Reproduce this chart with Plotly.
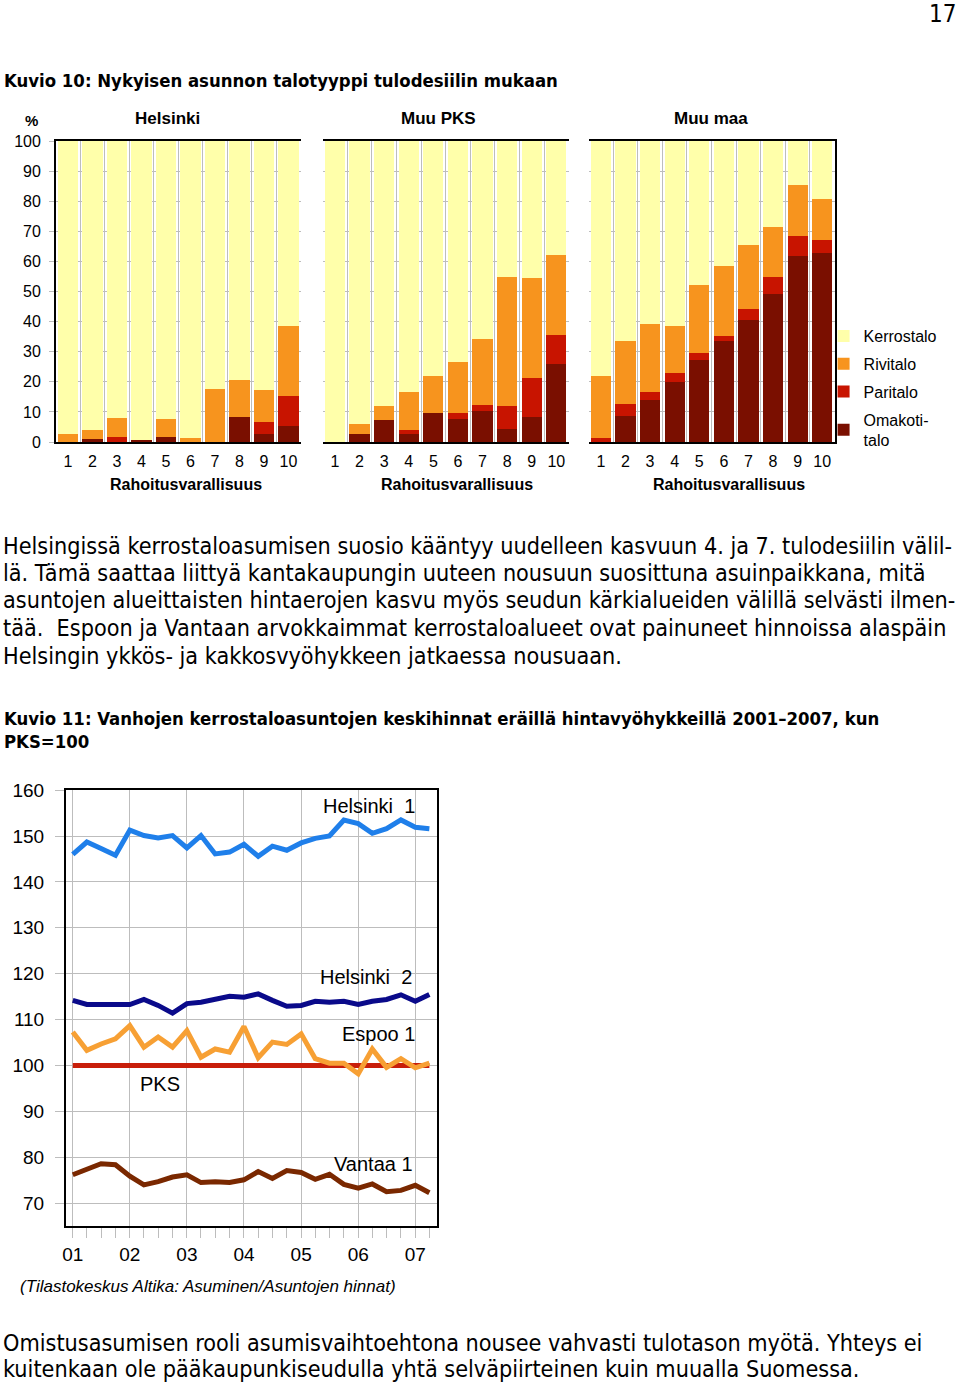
import plotly.graph_objects as go
import pandas as pd

W, H = 960, 1387
# the photographed page comes out squeezed a little vertically and pushed down;
# positions below are reference pixels, mapped back through this
Y_SCALE, Y_SHIFT = 0.9862, 9.95

# --- Kuvio 10: house type by income decile (% shares) ---
deciles = [1, 2, 3, 4, 5, 6, 7, 8, 9, 10]
regions = ["Helsinki", "Muu PKS", "Muu maa"]

omakoti_hki = [0, 0.9, 0, 0.8, 1.7, 0, 0, 8.2, 2.7, 5.5]
paritalo_hki = [0, 0, 1.7, 0, 0, 0, 0, 0, 4.0, 9.9]
rivitalo_hki = [2.6, 3.2, 6.3, 0, 5.9, 1.2, 17.8, 12.4, 10.5, 23.3]

omakoti_pks = [0, 2.7, 7.4, 2.7, 9.5, 7.7, 10.2, 4.3, 8.5, 25.9]
paritalo_pks = [0, 0, 0, 1.3, 0, 1.9, 2.2, 7.7, 12.7, 9.8]
rivitalo_pks = [0, 3.4, 4.6, 12.6, 12.3, 17.0, 21.7, 42.7, 33.2, 26.6]

omakoti_maa = [0, 8.7, 13.9, 19.8, 27.3, 33.7, 40.6, 49.3, 61.8, 62.8]
paritalo_maa = [1.2, 4.0, 2.9, 3.3, 2.2, 1.7, 3.6, 5.4, 6.7, 4.2]
rivitalo_maa = [20.6, 20.8, 22.5, 15.6, 22.7, 23.1, 21.2, 16.9, 16.9, 13.6]

# --- Kuvio 11: price index of old flats, PKS = 100 ---
quarters = pd.period_range("2001Q1", "2007Q2", freq="Q").to_timestamp()
helsinki1 = [146.0, 148.7, 147.3, 145.8, 151.3, 150.1, 149.6, 150.1, 147.4, 150.1,
             146.1, 146.5, 148.2, 145.6, 147.8, 146.9, 148.5, 149.5, 150.0, 153.5,
             152.7, 150.6, 151.6, 153.5, 151.9, 151.6]
helsinki2 = [114.2, 113.3, 113.3, 113.3, 113.3, 114.4, 113.1, 111.4, 113.5, 113.8,
             114.4, 115.1, 114.9, 115.6, 114.2, 112.9, 113.1, 114.0, 113.8, 114.0,
             113.3, 114.0, 114.4, 115.4, 114.0, 115.5]
espoo1 = [107.3, 103.3, 104.7, 105.8, 108.7, 104.0, 106.2, 104.0, 107.6, 101.8,
          103.6, 102.9, 108.5, 101.7, 105.1, 104.6, 106.9, 101.5, 100.5, 100.5,
          98.2, 103.6, 99.6, 101.5, 99.5, 100.5]
pks = [100] * 26
vantaa1 = [76.2, 77.4, 78.6, 78.4, 75.9, 74.0, 74.7, 75.7, 76.2, 74.5,
           74.7, 74.5, 75.1, 76.9, 75.4, 77.1, 76.7, 75.2, 76.3, 74.1,
           73.3, 74.2, 72.5, 72.8, 73.9, 72.3]


def px(x):
    return x / W


def py(y):
    return 1 - ((y - Y_SHIFT) / Y_SCALE) / H


BAR_COLORS = {
    "Kerrostalo": "#FFFFAA",
    "Rivitalo": "#F7941E",
    "Paritalo": "#C81400",
    "Omakoti-<br>talo": "#7A0F00",
}
SANS = "Liberation Sans, Arial, sans-serif"
NARROW = "Liberation Sans Narrow, Arial Narrow, DejaVu Sans Condensed, sans-serif"

fig = go.Figure()

region_data = [
    (omakoti_hki, paritalo_hki, rivitalo_hki),
    (omakoti_pks, paritalo_pks, rivitalo_pks),
    (omakoti_maa, paritalo_maa, rivitalo_maa),
]
for i, (oma, par, riv) in enumerate(region_data):
    kerros = [round(100 - a - b - c, 1) for a, b, c in zip(oma, par, riv)]
    suffix = "" if i == 0 else str(i + 1)
    series = [("Omakoti-<br>talo", oma, 4), ("Paritalo", par, 3),
              ("Rivitalo", riv, 2), ("Kerrostalo", kerros, 1)]
    for name, vals, rank in series:
        fig.add_trace(go.Bar(
            x=deciles, y=vals, name=name,
            marker=dict(color=BAR_COLORS[name], line=dict(width=0)),
            xaxis="x" + suffix, yaxis="y" + suffix,
            showlegend=(i == 0), legendgroup=name, legendrank=rank,
        ))

line_series = [
    ("Helsinki 1", helsinki1, "#1F7FEA"),
    ("Helsinki 2", helsinki2, "#0A0A8A"),
    ("Espoo 1", espoo1, "#F7A034"),
    ("PKS", pks, "#C81E0A"),
    ("Vantaa 1", vantaa1, "#7A2800"),
]
# PKS goes under Espoo like in the original
for name, vals, color in [line_series[3], line_series[0], line_series[1],
                          line_series[2], line_series[4]]:
    fig.add_trace(go.Scatter(
        x=quarters, y=vals, name=name, mode="lines",
        line=dict(color=color, width=5), xaxis="x4", yaxis="y4",
        showlegend=False,
    ))

bar_domains = [(52, 298), (320, 567), (587, 834)]
bar_y = [py(442), py(141)]
grid = "#BDBDBD"
for i, (x0, x1) in enumerate(bar_domains):
    suffix = "" if i == 0 else str(i + 1)
    fig.update_layout(**{
        "xaxis" + suffix: dict(
            domain=[px(x0), px(x1)], range=[0.5, 10.5], anchor="y" + suffix,
            tickvals=deciles, showgrid=False, showline=True, mirror=True,
            linecolor="black", linewidth=1.5, ticks="", zeroline=False,
            ticklabelstandoff=4,
            tickfont=dict(family=SANS, size=16, color="black"),
            minor=dict(tick0=0.5, dtick=1, showgrid=True, gridcolor=grid, gridwidth=1),
        ),
        "yaxis" + suffix: dict(
            domain=bar_y, range=[0, 100], anchor="x" + suffix,
            dtick=10, showgrid=True, gridcolor=grid, zeroline=False,
            showline=(i != 1), linecolor="black", linewidth=1.5,
            side="right" if i == 2 else "left",
            showticklabels=(i == 0), ticks="outside" if i == 0 else "",
            ticklen=5, tickcolor=grid, ticklabelstandoff=5,
            tickfont=dict(family=SANS, size=16, color="black"),
        ),
    })

fig.update_layout(
    xaxis4=dict(
        domain=[px(62), px(435)], anchor="y4", type="date",
        range=["2000-11-17", "2007-05-21"], dtick="M12", tick0="2001-01-01",
        tickformat="%y", ticks="outside", ticklen=10, tickcolor=grid,
        showgrid=True, gridcolor=grid, gridwidth=1.2,
        showline=True, mirror=True, linecolor="black", linewidth=1.5,
        tickfont=dict(family=SANS, size=19, color="black"),
        minor=dict(dtick="M3", ticks="outside", ticklen=10, tickcolor=grid, showgrid=False),
    ),
    yaxis4=dict(
        domain=[py(1226), py(790)], anchor="x4", range=[65, 160],
        tickvals=[70, 80, 90, 100, 110, 120, 130, 140, 150, 160],
        showgrid=True, gridcolor=grid, gridwidth=1.2, zeroline=False,
        showline=True, mirror=True, linecolor="black", linewidth=1.5,
        ticks="outside", ticklen=9, tickcolor=grid, ticklabelstandoff=7,
        tickfont=dict(family=SANS, size=19, color="black"),
    ),
)

BODY = 23.2
texts = [
    # (text, x, y, size, family, bold, anchor)
    ("17", 958, 14, 24, NARROW, False, "right"),
    ("Kuvio 10: Nykyisen asunnon talotyyppi tulodesiilin mukaan", -2, 80, 18.4, NARROW, True, "left"),
    ("%", 28, 120, 15, SANS, True, "center"),
    ("Helsinki", 164, 118, 17, SANS, True, "center"),
    ("Muu PKS", 436, 118, 17, SANS, True, "center"),
    ("Muu maa", 710, 118, 17, SANS, True, "center"),
    ("Rahoitusvarallisuus", 183, 484, 16, SANS, True, "center"),
    ("Rahoitusvarallisuus", 455, 484, 16, SANS, True, "center"),
    ("Rahoitusvarallisuus", 728, 484, 16, SANS, True, "center"),
    ("Helsingissä kerrostaloasumisen suosio kääntyy uudelleen kasvuun 4. ja 7. tulodesiilin välil-", -3, 545, BODY, NARROW, False, "left"),
    ("lä. Tämä saattaa liittyä kantakaupungin uuteen nousuun suosittuna asuinpaikkana, mitä", -3, 572, BODY, NARROW, False, "left"),
    ("asuntojen alueittaisten hintaerojen kasvu myös seudun kärkialueiden välillä selvästi ilmen-", -3, 599, BODY, NARROW, False, "left"),
    ("tää.  Espoon ja Vantaan arvokkaimmat kerrostaloalueet ovat painuneet hinnoissa alaspäin", -3, 627, BODY, NARROW, False, "left"),
    ("Helsingin ykkös- ja kakkosvyöhykkeen jatkaessa nousuaan.", -3, 655, BODY, NARROW, False, "left"),
    ("Kuvio 11: Vanhojen kerrostaloasuntojen keskihinnat eräillä hintavyöhykkeillä 2001–2007, kun", -2, 718, 18.4, NARROW, True, "left"),
    ("PKS=100", -2, 741, 18.4, NARROW, True, "left"),
    ("Helsinki  1", 318, 806, 20, SANS, False, "left"),
    ("Helsinki  2", 315, 977, 20, SANS, False, "left"),
    ("Espoo 1", 337, 1034, 20, SANS, False, "left"),
    ("PKS", 135, 1084, 20, SANS, False, "left"),
    ("Vantaa 1", 329, 1164, 20, SANS, False, "left"),
    ("<i>(Tilastokeskus Altika: Asuminen/Asuntojen hinnat)</i>", 14, 1286, 17, SANS, False, "left"),
    ("Omistusasumisen rooli asumisvaihtoehtona nousee vahvasti tulotason myötä. Yhteys ei", -3, 1342, BODY, NARROW, False, "left"),
    ("kuitenkaan ole pääkaupunkiseudulla yhtä selväpiirteinen kuin muualla Suomessa.", -3, 1368, BODY, NARROW, False, "left"),
]
annotations = []
for text, x, y, size, family, bold, anchor in texts:
    annotations.append(dict(
        text=f"<b>{text}</b>" if bold else text,
        x=px(x), y=py(y), xref="paper", yref="paper",
        xanchor=anchor, yanchor="middle", showarrow=False,
        font=dict(family=family, size=size, color="black"),
    ))

fig.update_layout(
    width=W, height=H,
    margin=dict(l=0, r=0, t=0, b=0),
    paper_bgcolor="white", plot_bgcolor="white",
    barmode="stack", bargap=0.18,
    font=dict(family=SANS, color="black"),
    annotations=annotations,
    legend=dict(
        x=px(823), y=py(319), xanchor="left", yanchor="top",
        font=dict(family=SANS, size=16, color="black"),
        tracegroupgap=4, itemclick=False, bgcolor="rgba(0,0,0,0)",
    ),
)

fig.write_html("out.html", config={"displayModeBar": False},
               post_script="document.body.style.margin='0';")
